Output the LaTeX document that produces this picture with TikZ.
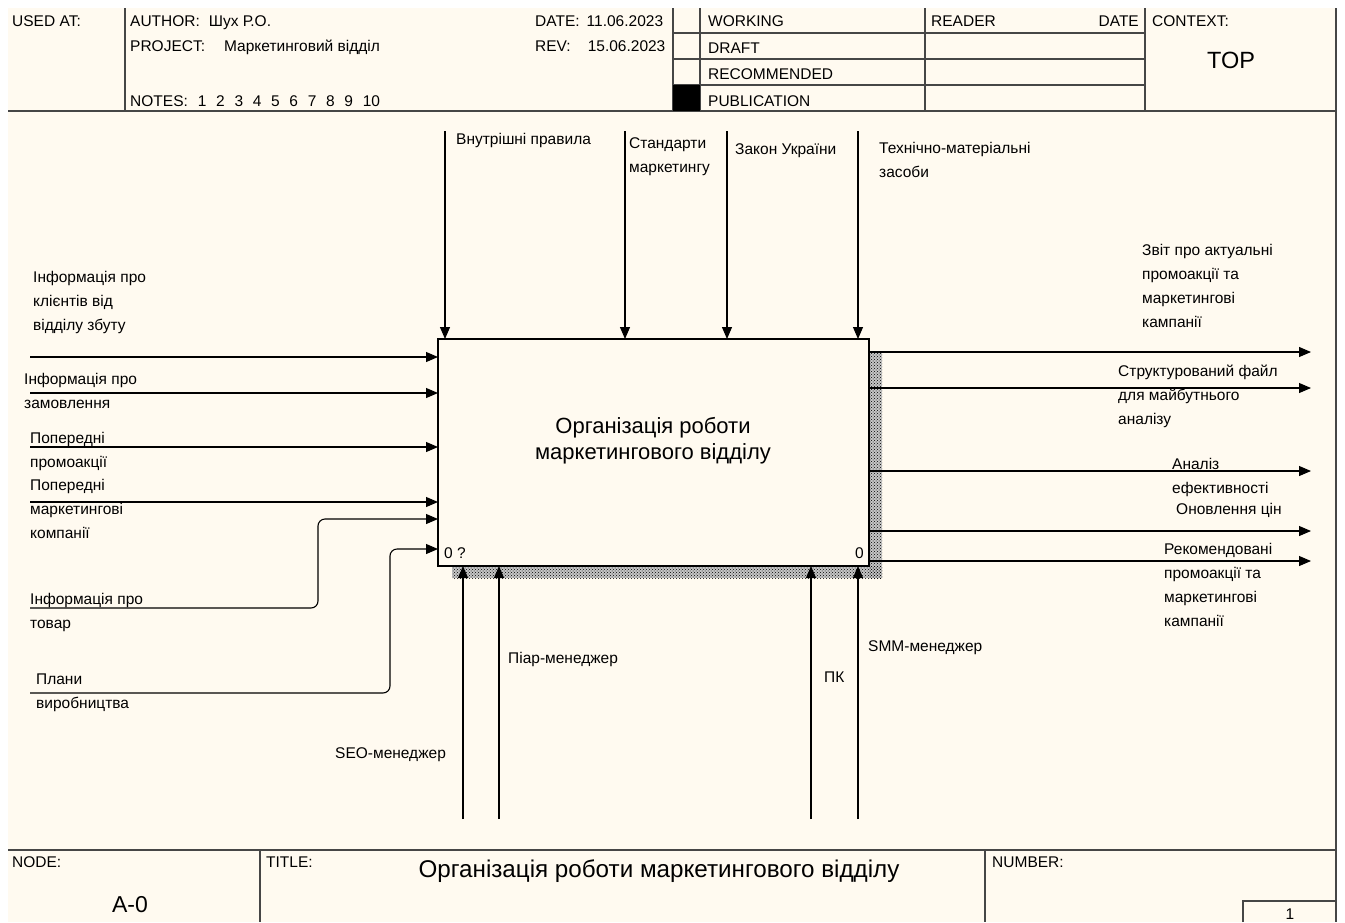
\documentclass[tikz,border=0pt]{standalone}
\usepackage{fontspec}
\setmainfont{Liberation Sans}
\usetikzlibrary{arrows.meta,patterns}
\definecolor{paper}{RGB}{255,250,240}
\definecolor{rulec}{RGB}{70,70,70}
\tikzset{
  lbl/.style={font=\fontsize{15.5}{24}\selectfont, inner sep=0pt, anchor=north west, align=left, yshift=16.8pt},
  hdr/.style={font=\fontsize{15.5}{18}\selectfont, inner sep=0pt, anchor=base west},
  arr/.style={draw=black, line width=1.1pt, -{Triangle[length=12pt,width=10pt]}},
  framel/.style={draw=rulec, line width=1.4pt},
  shadowp/.style={pattern=crosshatch dots, pattern color=black},
}
\begin{document}
\begin{tikzpicture}[x=1pt,y=-1pt]
\useasboundingbox (0,0) rectangle (1345,922);
\fill[white] (0,0) rectangle (1345,922);
\fill[paper] (8,8) rectangle (1336,922);

% frame lines
\draw[framel] (8,111) -- (1336,111);
\draw[framel] (8,850) -- (1336,850);
\draw[framel] (1336,8) -- (1336,922);
\draw[framel] (125,8) -- (125,111);
\draw[framel] (673,8) -- (673,111);
\draw[framel] (700,8) -- (700,111);
\draw[framel] (925,8) -- (925,111);
\draw[framel] (1145,8) -- (1145,111);
\draw[framel] (673,33) -- (1145,33);
\draw[framel] (673,59) -- (1145,59);
\draw[framel] (673,85) -- (1145,85);
\fill[black] (673,85) rectangle (700,111);
\draw[framel] (260,850) -- (260,922);
\draw[framel] (985,850) -- (985,922);
\draw[framel] (1243,922) -- (1243,901) -- (1336,901);

% header texts
\node[hdr] (usedat) at (12,26) {USED AT:};
\node[hdr] (author) at (130,26) {AUTHOR:\hspace{9pt}Шух Р.О.};
\node[hdr] (project) at (130,51) {PROJECT:\hspace{19pt}Маркетинговий відділ};
\node[hdr] (notes) at (130,106) {NOTES:\hspace{10pt}1\hspace{9.7pt}2\hspace{9.7pt}3\hspace{9.7pt}4\hspace{9.7pt}5\hspace{9.7pt}6\hspace{9.7pt}7\hspace{9.7pt}8\hspace{9.7pt}9\hspace{9.7pt}10};
\node[hdr] (date) at (535,26) {DATE:\hspace{7pt}11.06.2023};
\node[hdr] (rev) at (535,51) {REV:\hspace{17pt}15.06.2023};
\node[hdr] (working) at (708,26) {WORKING};
\node[hdr] (draft) at (708,53) {DRAFT};
\node[hdr] (recom) at (708,79) {RECOMMENDED};
\node[hdr] (publ) at (708,106) {PUBLICATION};
\node[hdr] (reader) at (931,26) {READER};
\node[hdr, anchor=base east] (rdate) at (1139,26) {DATE};
\node[hdr] (context) at (1152,26) {CONTEXT:};
\node[font=\fontsize{23.5}{26}\selectfont, inner sep=0pt, anchor=base] (top) at (1231,68) {TOP};

% footer texts
\node[hdr] (nodelbl) at (12,867) {NODE:};
\node[font=\fontsize{23}{26}\selectfont, inner sep=0pt, anchor=base] (nodeid) at (130,912) {A-0};
\node[hdr] (titlelbl) at (266,867) {TITLE:};
\node[font=\fontsize{24.2}{26}\selectfont, inner sep=0pt, anchor=base] (title) at (659,877) {Організація роботи маркетингового відділу};
\node[hdr] (numlbl) at (992,867) {NUMBER:};
\node[hdr, anchor=base] (numval) at (1290,919) {1};

% activity box with shadow
\fill[gray!45] (869,352) rectangle (882,578);
\fill[gray!45] (452,566) rectangle (882,578);
\fill[shadowp] (869,352) rectangle (882,578);
\fill[shadowp] (452,566) rectangle (882,578);
\node[draw=black, line width=2.2pt, fill=paper, minimum width=431pt, minimum height=227pt, inner sep=0pt, outer sep=0pt] (A0) at (653.5,452.5) {};
\node[font=\fontsize{22}{26}\selectfont, align=center, inner sep=0pt] (A0t) at (653,441) {Організація роботи\\маркетингового відділу};
\node[hdr] (A0num) at (444,558) {0 ?};
\node[hdr, anchor=base east] (A0cost) at (864,558) {0};

% controls
\coordinate (c1) at (445,131);
\coordinate (c2) at (625,131);
\coordinate (c3) at (727,131);
\coordinate (c4) at (858,131);
\draw[arr] (c1) -- (c1 |- A0.north);
\draw[arr] (c2) -- (c2 |- A0.north);
\draw[arr] (c3) -- (c3 |- A0.north);
\draw[arr] (c4) -- (c4 |- A0.north);
\node[lbl] (lc1) at (456,144) {\strut Внутрішні правила};
\node[lbl] (lc2) at (629,148) {\strut Стандарти\\маркетингу};
\node[lbl] (lc3) at (735,154) {\strut Закон України};
\node[lbl] (lc4) at (879,153) {\strut Технічно-матеріальні\\засоби};

% inputs
\coordinate (i1) at (30,357);
\coordinate (i2) at (30,393);
\coordinate (i3) at (30,447);
\coordinate (i4) at (30,502);
\draw[arr] (i1) -- (i1 -| A0.west);
\draw[arr] (i2) -- (i2 -| A0.west);
\draw[arr] (i3) -- (i3 -| A0.west);
\draw[arr] (i4) -- (i4 -| A0.west);
\coordinate (i5) at (30,608);
\coordinate (k5) at (318,608);
\coordinate (e5) at (318,519);
\draw[arr, rounded corners=7pt] (i5) -- (k5) -- (e5) -- (e5 -| A0.west);
\coordinate (i6) at (30,693);
\coordinate (k6) at (390,693);
\coordinate (e6) at (390,549);
\draw[arr, rounded corners=7pt] (i6) -- (k6) -- (e6) -- (e6 -| A0.west);
\node[lbl] (li1) at (33,282) {\strut Інформація про\\клієнтів від\\відділу збуту};
\node[lbl] (li2) at (24,384) {\strut Інформація про\\замовлення};
\node[lbl] (li3) at (30,443) {\strut Попередні\\промоакції};
\node[lbl] (li4) at (30,490) {\strut Попередні\\маркетингові\\компанії};
\node[lbl] (li5) at (30,604) {\strut Інформація про\\товар};
\node[lbl] (li6) at (36,684) {\strut Плани\\виробництва};

% mechanisms
\coordinate (m1) at (463,819);
\coordinate (m2) at (499,819);
\coordinate (m3) at (811,819);
\coordinate (m4) at (858,819);
\draw[arr] (m1) -- (m1 |- A0.south);
\draw[arr] (m2) -- (m2 |- A0.south);
\draw[arr] (m3) -- (m3 |- A0.south);
\draw[arr] (m4) -- (m4 |- A0.south);
\node[lbl] (lm1) at (335,758) {\strut SEO-менеджер};
\node[lbl] (lm2) at (508,663) {\strut Піар-менеджер};
\node[lbl] (lm3) at (824,682) {\strut ПК};
\node[lbl] (lm4) at (868,651) {\strut SMM-менеджер};

% outputs
\coordinate (o1) at (1311,352);
\coordinate (o2) at (1311,388);
\coordinate (o3) at (1311,471);
\coordinate (o4) at (1311,531);
\coordinate (o5) at (1311,561);
\draw[arr] (o1 -| A0.east) -- (o1);
\draw[arr] (o2 -| A0.east) -- (o2);
\draw[arr] (o3 -| A0.east) -- (o3);
\draw[arr] (o4 -| A0.east) -- (o4);
\draw[arr] (o5 -| A0.east) -- (o5);
\node[lbl] (lo1) at (1142,255) {\strut Звіт про актуальні\\промоакції та\\маркетингові\\кампанії};
\node[lbl] (lo2) at (1118,376) {\strut Структурований файл\\для майбутнього\\аналізу};
\node[lbl] (lo3) at (1172,469) {\strut Аналіз\\ефективності};
\node[lbl] (lo4) at (1176,514) {\strut Оновлення цін};
\node[lbl] (lo5) at (1164,554) {\strut Рекомендовані\\промоакції та\\маркетингові\\кампанії};
\end{tikzpicture}
\end{document}
